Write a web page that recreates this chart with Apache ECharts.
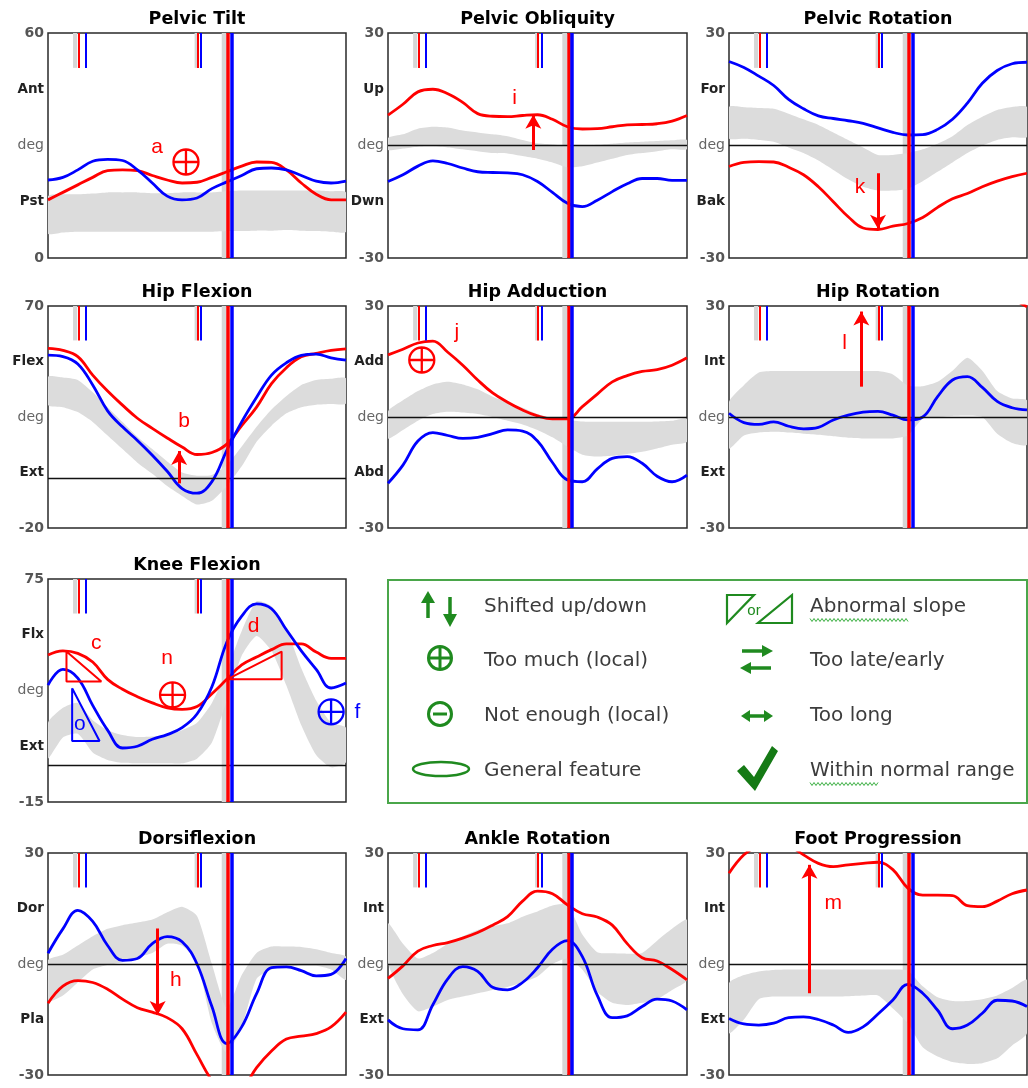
<!DOCTYPE html>
<html><head><meta charset="utf-8">
<script src="https://cdn.jsdelivr.net/npm/echarts@6/dist/echarts.min.js"></script>
<style>html,body{margin:0;padding:0;background:#fff}#c{width:1028px;height:1088px}</style>
</head><body><div id="c"></div>
<script>
// ---- x samples (% gait cycle) ----
const pct = [0,5,10,15,20,25,30,35,40,45,50,55,60,65,70,75,80,85,90,95,100];

// ---- gait events (% cycle) ----
const eventsRed = [10.2, 50.1, 60.3];
const eventsBlue = [12.6, 51.3, 61.6];
const normalOppOff = [8.4, 9.8];
const normalOppContact = [49.2, 50.0];
const normalFootOff = [58.3, 59.9];

// ---- Pelvic Tilt ----
const ptRed  = [15.5,17.5,19.5,21.5,23.3,23.5,23.3,22,20.8,20,20.2,21.5,23,24.5,25.6,25.5,23.5,20,17,15.5,15.5];
const ptBlue = [20.8,21.5,23.5,25.8,26.3,26,23.5,20,16.5,15.5,16,18.5,20.3,22,23.8,24,23.5,22,20.5,20,20.5];
const ptLo   = [6.5,6.8,7,7,7,7,7,7,7,7,7,7,7.2,7.2,7.3,7.3,7.5,7.3,7.2,7,7];
const ptHi   = [16.5,17,17,17.2,17.5,17.5,17.5,17.3,17.3,17.5,17.5,17.5,17.8,18,18,18,18,18,18,17.8,17.5];
const ptTicks = ['0','Pst','deg','Ant','60'];

// ---- Pelvic Obliquity ----
const poRed  = [8.1,11,14.3,15,13.8,11.5,8.5,7.8,7.7,8,8.2,7,5,4.4,4.5,5,5.5,5.6,5.8,6.5,8];
const poBlue = [-9.6,-7.8,-5.5,-4.1,-4.8,-6,-7,-7.2,-7.3,-7.8,-9.6,-12.5,-15.4,-16.3,-14.6,-12.3,-10.2,-8.8,-8.8,-9.3,-9.3];
const poLo   = [-1.2,-0.8,-0.3,-0.2,-0.5,-1,-1.5,-2,-2.1,-2.8,-3.5,-4.5,-5.8,-5.5,-4.5,-3.5,-2.5,-2,-1.5,-1,-1];
const poHi   = [2,3,4.5,5,4.8,4,3.5,3,2.5,1.5,0.6,0.3,0,0,0.2,0.5,0.8,1,1.2,1.4,1.5];
const poTicks = ['-30','Dwn','deg','Up','30'];

// ---- Pelvic Rotation ----
const prRed  = [-5.6,-4.5,-4.3,-4.4,-5.8,-7.8,-11,-15,-19,-22,-22.4,-21.5,-20.8,-19.2,-16.5,-14.2,-12.8,-11,-9.5,-8.3,-7.4];
const prBlue = [22.4,20.8,18.5,16,12.3,9.8,7.9,7.2,6.6,5.9,4.7,3.5,2.8,2.9,4.3,7,11.3,16.6,20,21.8,22.2];
const prLo   = [1.9,1.8,1.5,1,-0.5,-2,-4,-6.5,-9,-11,-12,-12,-11.5,-9.5,-7,-4.5,-2,0,1.5,2.2,2.3];
const prHi   = [10.3,10.2,10,9.8,8.5,7,5.5,3.5,1.5,-0.5,-2.5,-2.5,-2,-1,0.5,2.5,5.5,7.7,9.5,10.3,10.3];
const prTicks = ['-30','Bak','deg','For','30'];

// ---- Hip Flexion ----
const hfRed  = [52.8,52,49.5,42,35.5,29.8,24.5,20.4,16.5,12.8,9.8,10.6,14,21.5,29,38.5,45,49.4,50.8,52,52.6];
const hfBlue = [50.1,49.5,46.5,38,27.5,21,15.5,9.5,3,-4,-5.9,-1.2,11.5,23,33,42,47,50,50.5,49,48.1];
const hfLo   = [29.9,29,27,23,17.5,12,6.5,2,-3,-7,-10.5,-9,-3,5,15,21.5,26.5,29,30,30.3,30.5];
const hfHi   = [41.3,41,40,35,29,23,17,12,7,2.5,1.2,1.5,5.5,13,21,28,33.5,38,40,40.5,40.7];
const hfTicks = ['-20','Ext','deg','Flex','70'];

// ---- Hip Adduction ----
const haRed  = [16.8,18.3,20,20.5,17.5,14,10,6.5,4,1.9,0.3,-0.5,-0.5,2.8,6.2,9.5,11.2,12.3,12.8,14,16];
const haBlue = [-17.9,-13,-6.5,-4.2,-5,-5.8,-5.5,-4.5,-3.5,-3.8,-6.5,-12.3,-17,-17.5,-14,-11.2,-10.7,-12.5,-16,-17.5,-15.7];
const haLo   = [-5.8,-3.5,-1,0.8,1.4,1.2,0.8,0,-1,-2,-3.5,-5.5,-8,-10.2,-10.7,-10.5,-10,-9.4,-8.5,-7.5,-6.7];
const haHi   = [1.5,4.5,7,8.8,9.5,8.8,7.5,5.5,4,2.5,0.8,-0.3,-0.8,-1.2,-1.3,-1.3,-1.3,-1.3,-1.2,-1,-0.5];
const haTicks = ['-30','Abd','deg','Add','30'];

// ---- Hip Rotation ----
const hrRed  = [null,null,null,null,null,null,null,null,null,null,null,null,null,null,null,null,null,null,null,32,29.8];
const hrBlue = [1,-1.5,-2,-1.3,-2.5,-3.2,-2.8,-0.8,0.5,1.3,1.5,0.5,-0.8,0,5.5,10,10.9,8,4.2,2.5,1.9];
const hrLo   = [-8.5,-5,-4.2,-4,-4.2,-4.5,-4.8,-5.2,-5.6,-5.8,-5.8,-5.8,-5,-0.5,0,0.3,0.4,0,-4.5,-7,-7.5];
const hrHi   = [4.1,8.6,12,12.4,12.4,12.4,12.4,12.4,12.4,12.4,12.4,11.5,8.5,8.3,9.5,12.5,16,12.5,7,5,4.5];
const hrTicks = ['-30','Ext','deg','Int','30'];

// ---- Knee Flexion ----
const kfRed  = [44.3,46,45,41.5,34.5,30.5,27.5,25,23,22.4,23.5,28.7,34.5,40.3,43.5,46.5,48.8,48.8,45.5,43,43];
const kfBlue = [32.2,38.5,35,24,14,6.8,7.5,10.3,12.2,15,20.5,31.5,49.5,60,65,63,54.5,46,38.5,31,33];
const kfLo   = [2.6,11,12.5,5,2,0.8,0.6,0.6,0.6,0.6,2.5,9,26,44,52,46,32,16,4,-1,1];
const kfHi   = [17,23,25,18,14,12,11.2,11.4,12,14,17,25,38,54,66,64,55,39,26,17,15];
const kfTicks = ['-15','Ext','deg','Flx','75'];

// ---- Dorsiflexion ----
const dfRed  = [-10.6,-6,-4.5,-5,-6.8,-9.5,-11.8,-13,-14.5,-17.5,-24.5,-31.5,-36,-34,-28,-23.5,-20.3,-19.5,-18.8,-17,-13];
const dfBlue = [2.9,9.5,14.5,11.5,5,1,1.5,5.5,7.4,6,0,-11.5,-21.5,-17,-8,-1,-0.8,-1.8,-3.2,-2.8,1.5];
const dfLo   = [-10,-8.5,-5,-1.5,-0.3,0.5,1.8,3,5.5,5,0.5,-16,-24,-17,-4,-1.5,-0.7,-0.5,-0.5,-1.5,-4.3];
const dfHi   = [1,2.5,5,7.5,9.5,10.5,11.2,12,14,15.5,13,0,-12,-3,3,4.7,4.7,4.6,4,3,2];
const dfTicks = ['-30','Pla','deg','Dor','30'];

// ---- Ankle Rotation ----
const arRed  = [-3.9,-0.5,3.5,5,5.8,7,8.5,10.5,12.8,17,19.7,19,16,13.6,12.7,10.5,5.5,1.7,0.8,-1.5,-4.3];
const arBlue = [-15.1,-17.5,-17.8,-11,-4,-0.7,-2,-6.3,-7,-5,-1,4,6.3,2,-8.5,-14.5,-14,-11.5,-9.5,-10,-12.4];
const arLo   = [0.2,-8.2,-12.8,-11.5,-9.7,-8.8,-7.9,-7,-6.2,-5,-3.4,0,1.5,-1.5,-7.5,-10.5,-11.1,-10.5,-9.5,-7,-4.3];
const arHi   = [11,5.5,1.5,3,5.5,7.5,9.2,10.2,11,12.8,14.2,15.8,16,8,3.2,2.9,2.8,3,6.3,9.5,11.9];
const arTicks = ['-30','Ext','deg','Int','30'];

// ---- Foot Progression ----
const fpRed  = [24.5,29.5,32,33,32,29.5,27.2,26.3,26.8,27.2,27.5,25.5,20.5,18.6,18.6,18.5,15.8,15.5,17,19,20];
const fpBlue = [-14.7,-16.2,-16.5,-16,-14.5,-14.3,-15,-16.5,-18.5,-17,-13.5,-9.7,-5.5,-7.9,-12.5,-17.5,-16.5,-13.3,-9.8,-10,-11.5];
const fpLo   = [-18.7,-15,-9.5,-8.8,-8.8,-8.8,-8.8,-8.8,-8.7,-8.5,-8.5,-12,-16,-22.5,-25,-26.5,-27,-26.8,-25.5,-22,-18.7];
const fpHi   = [-5.2,-3,-2,-1.6,-1.5,-1.5,-1.5,-1.5,-1.5,-1.5,-1.5,-1.5,-1.8,-6,-9,-10,-10,-9.5,-8.5,-6.5,-4.3];
const fpTicks = ['-30','Ext','deg','Int','30'];

// ---- annotations (data coordinates) ----
const ptNotes = [[36.6,29.6,'a','R']];   const ptPlus = [[46.3,25.6,'R']];  const ptArrows = [];
const poNotes = [[42.3,12.6,'i','R']];   const poPlus = [];  const poArrows = [[48.6,-1.2,8.2]];
const prNotes = [[44,-11.2,'k','R']];    const prPlus = [];  const prArrows = [[50,-7.4,-22.2]];
const hfNotes = [[45.7,23.1,'b','R']];   const hfPlus = [];  const hfArrows = [[44,-1.9,11.2]];
const haNotes = [[23,22.8,'j','R']];     const haPlus = [[11.3,15.4,'R']];  const haArrows = [];
const hrNotes = [[38.8,19.9,'l','R']];   const hrPlus = [];  const hrArrows = [[44.4,8.2,28.5]];
const kfNotes = [[16.2,49,'c','R'],[69,55.8,'d','R'],[40,43,'n','R'],[10.7,16.3,'o','B'],[103.8,21.4,'f','B']];
const kfPlus = [[41.8,28.2,'R'],[95,21.4,'B']];  const kfArrows = [];
const kfTriRed1 = [[6.2,45.7],[6.2,33.6],[17.9,33.6],[6.2,45.7]];
const kfTriRed2 = [[60.1,34.5],[78.4,45.7],[78.4,34.5],[60.1,34.5]];
const kfTriBlue = [[8.1,30.9],[8.1,9.6],[17.3,9.6],[8.1,30.9]];
const dfNotes = [[42.9,-4.3,'h','R']];   const dfPlus = [];  const dfArrows = [[36.8,9.6,-13.8]];
const arNotes = [];  const arPlus = [];  const arArrows = [];
const fpNotes = [[35,16.4,'m','R']];     const fpPlus = [];  const fpArrows = [[27,-7.9,26.8]];

// ---- layout (pixels) ----
const rowTop = [33, 306, 579, 853];
const rowH = [225, 222, 223, 222];
const colLeft = [48, 388, 729];
const colW = [298, 299, 298];

const RED = '#ff0000', BLUE = '#0000ff', BAND = '#dcdcdc';
const col = s => s === 'B' ? BLUE : RED;

const panels = [
  {title:'Pelvic Tilt', r:0,c:0,min:0,max:60,ticks:ptTicks,red:ptRed,blue:ptBlue,lo:ptLo,hi:ptHi,zero:false,notes:ptNotes,plus:ptPlus,arrows:ptArrows,tris:[]},
  {title:'Pelvic Obliquity', r:0,c:1,min:-30,max:30,ticks:poTicks,red:poRed,blue:poBlue,lo:poLo,hi:poHi,zero:true,notes:poNotes,plus:poPlus,arrows:poArrows,tris:[]},
  {title:'Pelvic Rotation', r:0,c:2,min:-30,max:30,ticks:prTicks,red:prRed,blue:prBlue,lo:prLo,hi:prHi,zero:true,notes:prNotes,plus:prPlus,arrows:prArrows,tris:[]},
  {title:'Hip Flexion', r:1,c:0,min:-20,max:70,ticks:hfTicks,red:hfRed,blue:hfBlue,lo:hfLo,hi:hfHi,zero:true,notes:hfNotes,plus:hfPlus,arrows:hfArrows,tris:[]},
  {title:'Hip Adduction', r:1,c:1,min:-30,max:30,ticks:haTicks,red:haRed,blue:haBlue,lo:haLo,hi:haHi,zero:true,notes:haNotes,plus:haPlus,arrows:haArrows,tris:[]},
  {title:'Hip Rotation', r:1,c:2,min:-30,max:30,ticks:hrTicks,red:hrRed,blue:hrBlue,lo:hrLo,hi:hrHi,zero:true,notes:hrNotes,plus:hrPlus,arrows:hrArrows,tris:[]},
  {title:'Knee Flexion', r:2,c:0,min:-15,max:75,ticks:kfTicks,red:kfRed,blue:kfBlue,lo:kfLo,hi:kfHi,zero:true,notes:kfNotes,plus:kfPlus,arrows:kfArrows,
     tris:[[kfTriRed1,'R'],[kfTriRed2,'R'],[kfTriBlue,'B']]},
  {title:'Dorsiflexion', r:3,c:0,min:-30,max:30,ticks:dfTicks,red:dfRed,blue:dfBlue,lo:dfLo,hi:dfHi,zero:true,notes:dfNotes,plus:dfPlus,arrows:dfArrows,tris:[]},
  {title:'Ankle Rotation', r:3,c:1,min:-30,max:30,ticks:arTicks,red:arRed,blue:arBlue,lo:arLo,hi:arHi,zero:true,notes:arNotes,plus:arPlus,arrows:arArrows,tris:[]},
  {title:'Foot Progression', r:3,c:2,min:-30,max:30,ticks:fpTicks,red:fpRed,blue:fpBlue,lo:fpLo,hi:fpHi,zero:true,notes:fpNotes,plus:fpPlus,arrows:fpArrows,tris:[]}
];

const pairs = arr => pct.map((x,i) => [x, arr[i]]);
const PLUS_PATH = 'path://M12 2A10 10 0 1 0 12.001 2ZM2 12L22 12M12 2L12 22';

const grids = [], xAxes = [], yAxes = [], series = [], graphics = [];

panels.forEach((p, i) => {
  const left = colLeft[p.c], top = rowTop[p.r], w = colW[p.c], h = rowH[p.r];
  const step = (p.max - p.min) / 4;
  grids.push({left, top, width:w, height:h, show:true, borderColor:'#2a2a2a', borderWidth:1.5, backgroundColor:'#fff', containLabel:false, outerBoundsMode:'none'});
  xAxes.push({type:'value', gridIndex:i, min:0, max:100, show:false});
  yAxes.push({type:'value', gridIndex:i, min:p.min, max:p.max, interval:step,
    axisLine:{show:false}, axisTick:{show:false}, splitLine:{show:false},
    axisLabel:{show:true, margin:4, showMinLabel:true, showMaxLabel:true,
      customValues:[0,1,2,3,4].map(k => p.min + k*step),
      formatter: v => {
        const k = Math.round((v - p.min) / step);
        const s = p.ticks[k];
        if (s === 'deg') return '{d|deg}';
        if (/^-?\d/.test(s)) return '{n|' + s + '}';
        return '{w|' + s + '}';
      },
      rich:{
        n:{fontFamily:'DejaVu Sans', fontSize:14, fontWeight:'bold', color:'#555'},
        d:{fontFamily:'DejaVu Sans', fontSize:14, color:'#666'},
        w:{fontFamily:'DejaVu Sans', fontSize:13.5, fontWeight:'bold', color:'#222'}
      }}});
  // title
  graphics.push({type:'text', x:left + w/2, y:top - 14, silent:true,
    style:{text:p.title, align:'center', verticalAlign:'middle', font:'bold 17.5px "DejaVu Sans"', fill:'#000'}});

  // normal band as polygon between lo and hi, through the axis scales
  series.push({type:'custom', xAxisIndex:i, yAxisIndex:i, data:[[0, 0]], z:1, silent:true, clip:true, animation:false,
    renderItem:(params, api) => {
      const up = pct.map((x,k) => api.coord([x, p.hi[k]]));
      const dn = pct.map((x,k) => api.coord([x, p.lo[k]])).reverse();
      return {type:'polygon', shape:{points:up.concat(dn), smooth:0.2}, style:{fill:BAND}};
    }});

  // event gray normal ranges + zero line
  const ymaxEv = p.max, yminEv = p.max - 0.155*(p.max - p.min);
  series.push({type:'line', xAxisIndex:i, yAxisIndex:i, data:[], z:2, silent:true, animation:false,
    markArea:{silent:true, itemStyle:{color:'#d6d6d6'}, data:[
      [{coord:[normalFootOff[0], p.min]}, {coord:[normalFootOff[1], p.max]}],
      [{coord:[normalOppOff[0], yminEv]}, {coord:[normalOppOff[1], ymaxEv]}],
      [{coord:[normalOppContact[0], yminEv]}, {coord:[normalOppContact[1], ymaxEv]}]
    ]},
    markLine: p.zero ? {silent:true, symbol:['none','none'], label:{show:false}, animation:false,
      lineStyle:{color:'#111', width:1.3, type:'solid'}, data:[[{coord:[0,0]},{coord:[100,0]}]]} : undefined
  });

  // curves
  series.push({type:'line', xAxisIndex:i, yAxisIndex:i, data:pairs(p.red), symbol:'none', smooth:0.4,
    lineStyle:{color:RED, width:2.8}, z:3, silent:true, animation:false, clip:true});
  series.push({type:'line', xAxisIndex:i, yAxisIndex:i, data:pairs(p.blue), symbol:'none', smooth:0.4,
    lineStyle:{color:BLUE, width:2.8}, z:3, silent:true, animation:false, clip:true});

  // event lines
  const evLines = [];
  [0,1].forEach(k => {
    evLines.push([{coord:[eventsRed[k], ymaxEv], lineStyle:{color:RED, width:2}}, {coord:[eventsRed[k], yminEv]}]);
    evLines.push([{coord:[eventsBlue[k], ymaxEv], lineStyle:{color:BLUE, width:2}}, {coord:[eventsBlue[k], yminEv]}]);
  });
  evLines.push([{coord:[eventsRed[2], p.max], lineStyle:{color:RED, width:3.5}}, {coord:[eventsRed[2], p.min]}]);
  evLines.push([{coord:[eventsBlue[2], p.max], lineStyle:{color:BLUE, width:3.5}}, {coord:[eventsBlue[2], p.min]}]);
  series.push({type:'line', xAxisIndex:i, yAxisIndex:i, data:[], z:4, silent:true, animation:false,
    markLine:{silent:true, symbol:['none','none'], label:{show:false}, animation:false, lineStyle:{type:'solid'}, data:evLines}});

  // annotations
  const mp = [];
  p.notes.forEach(n => {
    const over = Math.max(0, n[0] - 100);
    mp.push({coord:[Math.min(n[0], 100), n[1]], symbol:'circle', symbolSize:1, itemStyle:{color:'rgba(0,0,0,0)'},
      label:{show:true, position:'inside', offset:[over * w / 100, 0], formatter:n[2], color:col(n[3]), fontSize:21, fontFamily:'Liberation Sans'}});
  });
  p.plus.forEach(n => mp.push({coord:[n[0], n[1]], symbol:PLUS_PATH, symbolSize:25, itemStyle:{color:'rgba(0,0,0,0)', borderColor:col(n[2]), borderWidth:2.3},
    label:{show:false}}));
  const ml = p.arrows.map(a => [{coord:[a[0], a[1]]}, {coord:[a[0], a[2]]}]);
  series.push({type:'line', xAxisIndex:i, yAxisIndex:i, data:[], z:6, silent:true, animation:false, clip:false,
    markPoint:{silent:true, animation:false, data:mp},
    markLine:{silent:true, animation:false, symbol:['none','arrow'], symbolSize:[12,14], label:{show:false},
      lineStyle:{color:RED, width:3, type:'solid'}, data:ml}});
  p.tris.forEach(t => series.push({type:'line', xAxisIndex:i, yAxisIndex:i, data:t[0], symbol:'none', smooth:false,
    lineStyle:{color:col(t[1]), width:2}, z:6, silent:true, animation:false, clip:false}));
});

// ---- legend box (graphic) ----
const G = '#1f8a1f', GB = '#4aa64a', TXT = '#3c3c3c';
const LF = '20px "DejaVu Sans"';
const legendTexts = [
  ['Shifted up/down', 484, 607], ['Too much (local)', 484, 661], ['Not enough (local)', 484, 716], ['General feature', 484, 771],
  ['Abnormal slope', 810, 607], ['Too late/early', 810, 661], ['Too long', 810, 716], ['Within normal range', 810, 771]
];
graphics.push({type:'rect', shape:{x:388, y:580, width:639, height:223}, style:{fill:'#fff', stroke:GB, lineWidth:2}, z:-1});
legendTexts.forEach(t => graphics.push({type:'text', x:t[1], y:t[2], style:{text:t[0], font:LF, fill:TXT, verticalAlign:'middle'}}));
function wavy(x0, x1, y) { const pts=[]; for (let x=x0, k=0; x<=x1; x+=2, k++) pts.push([x, y + (k%2 ? 1.5 : -1.5)]); return pts; }
graphics.push({type:'polyline', shape:{points:wavy(810, 908, 620)}, style:{stroke:'#3cb043', lineWidth:1, fill:null}});
graphics.push({type:'polyline', shape:{points:wavy(810, 878, 784)}, style:{stroke:'#3cb043', lineWidth:1, fill:null}});
// up/down arrows
graphics.push({type:'line', shape:{x1:428,y1:618,x2:428,y2:601}, style:{stroke:G, lineWidth:3.5}});
graphics.push({type:'polygon', shape:{points:[[421,603],[435,603],[428,591]]}, style:{fill:G}});
graphics.push({type:'line', shape:{x1:450,y1:597,x2:450,y2:616}, style:{stroke:G, lineWidth:3.5}});
graphics.push({type:'polygon', shape:{points:[[443,614],[457,614],[450,627]]}, style:{fill:G}});
// circled plus / minus
graphics.push({type:'circle', shape:{cx:440, cy:658, r:11.5}, style:{fill:null, stroke:G, lineWidth:3}});
graphics.push({type:'line', shape:{x1:429,y1:658,x2:451,y2:658}, style:{stroke:G, lineWidth:3}});
graphics.push({type:'line', shape:{x1:440,y1:647,x2:440,y2:669}, style:{stroke:G, lineWidth:3}});
graphics.push({type:'circle', shape:{cx:440, cy:714, r:11.5}, style:{fill:null, stroke:G, lineWidth:3}});
graphics.push({type:'line', shape:{x1:433,y1:714,x2:447,y2:714}, style:{stroke:G, lineWidth:3}});
// ellipse
graphics.push({type:'ellipse', shape:{cx:441, cy:769, rx:28, ry:7}, style:{fill:null, stroke:G, lineWidth:2.5}});
// triangles "or"
graphics.push({type:'polygon', shape:{points:[[727,595],[754,595],[727,623]]}, style:{fill:null, stroke:G, lineWidth:2.2}});
graphics.push({type:'text', x:754, y:611, style:{text:'or', font:'15px "Liberation Sans"', fill:G, align:'center', verticalAlign:'middle'}});
graphics.push({type:'polygon', shape:{points:[[758,623],[792,623],[792,595]]}, style:{fill:null, stroke:G, lineWidth:2.2}});
// late/early arrows
graphics.push({type:'line', shape:{x1:742,y1:651,x2:764,y2:651}, style:{stroke:G, lineWidth:3.5}});
graphics.push({type:'polygon', shape:{points:[[762,645],[773,651],[762,657]]}, style:{fill:G}});
graphics.push({type:'line', shape:{x1:749,y1:668,x2:771,y2:668}, style:{stroke:G, lineWidth:3.5}});
graphics.push({type:'polygon', shape:{points:[[751,662],[740,668],[751,674]]}, style:{fill:G}});
// too long
graphics.push({type:'line', shape:{x1:748,y1:716,x2:766,y2:716}, style:{stroke:G, lineWidth:3.5}});
graphics.push({type:'polygon', shape:{points:[[750,710],[741,716],[750,722]]}, style:{fill:G}});
graphics.push({type:'polygon', shape:{points:[[764,710],[773,716],[764,722]]}, style:{fill:G}});
// check mark
graphics.push({type:'polygon', shape:{points:[[737,771],[744,765],[754,777],[772,746],[778,751],[755,791]]}, style:{fill:'#157a15'}});

const chart = echarts.init(document.getElementById('c'), null, {renderer:'canvas'});
chart.setOption({
  animation:false,
  backgroundColor:'#fff',
  grid:grids, xAxis:xAxes, yAxis:yAxes, series:series, graphic:graphics
});
</script>
</body></html>
